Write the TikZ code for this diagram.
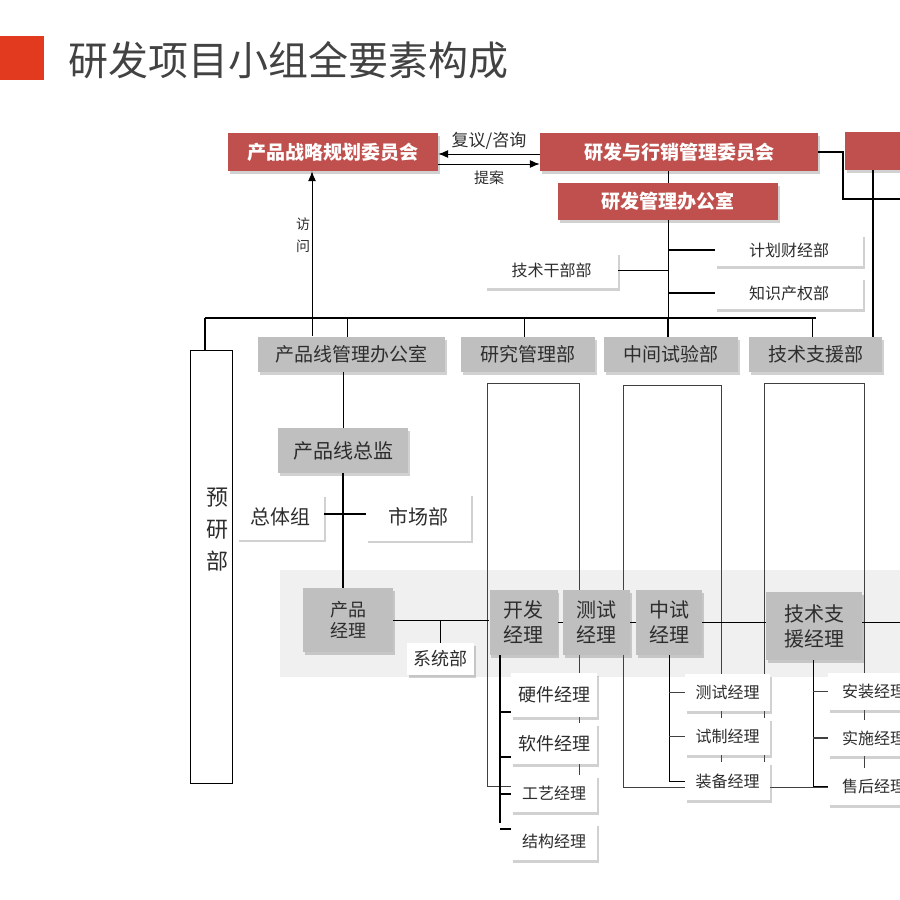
\documentclass[tikz,border=0pt]{standalone}
\usepackage{fontspec}
\setmainfont{Noto Sans CJK SC}
\usetikzlibrary{arrows.meta,shadows,calc}
\definecolor{titlered}{RGB}{226,58,30}
\definecolor{boxred}{RGB}{192,80,77}
\definecolor{boxgray}{RGB}{191,191,191}
\definecolor{bandgray}{RGB}{240,240,240}
\definecolor{textdark}{RGB}{45,45,45}
\definecolor{linegray}{RGB}{64,64,64}

\tikzset{
  boxshadow/.style={drop shadow={shadow xshift=1.5pt, shadow yshift=-2.5pt, opacity=0.3, fill=black!60}},
  redbox/.style={fill=boxred, text=white, inner sep=0pt, boxshadow, font=\fontsize{19}{22}\selectfont\bfseries},
  deptbox/.style={fill=boxgray, text=textdark, inner sep=0pt, boxshadow, minimum height=35pt, font=\fontsize{19}{22}\selectfont},
  mgrbox/.style={fill=boxgray, text=textdark, inner sep=0pt, boxshadow, align=center, font=\fontsize{20}{25}\selectfont},
  whitebox/.style={fill=white, text=textdark, inner sep=0pt, boxshadow, font=\fontsize{16}{18}\selectfont},
  thinline/.style={line width=0.8pt, black},
  busline/.style={line width=1.2pt, black},
  thickline/.style={line width=2pt, black},
  frameline/.style={line width=0.9pt, linegray},
  tickline/.style={line width=1.4pt, linegray},
  arrowline/.style={line width=1pt, -{Latex[length=10pt,width=8pt]}}
}

\begin{document}
\begin{tikzpicture}[x=1pt, y=-1pt]
    \useasboundingbox (0,0) rectangle (900,900);

    % Title
    \node[fill=titlered, minimum size=44pt, inner sep=0pt] (titlemark) at (22,58) {};
    \node[font=\fontsize{40}{44}\selectfont, text=textdark!90, inner sep=0pt] (title) at (288,60) {研发项目小组全要素构成};

    % Committees
    \node[redbox, minimum width=210pt, minimum height=38pt] (stratcom) at (333,152) {产品战略规划委员会};
    \node[redbox, minimum width=278pt, minimum height=38pt] (mktcom) at (679,152) {研发与行销管理委员会};
    \node[redbox, minimum width=120pt, minimum height=38pt] (thirdcom) at (905,151) {};
    \node[redbox, minimum width=220pt, minimum height=37pt] (rdoffice) at (668,201.5) {研发管理办公室};

    % Offices under the R&D office
    \node[whitebox, minimum width=133pt, minimum height=36pt] (cadre) at (551.5,270) {技术干部部};
    \node[whitebox, minimum width=148pt, minimum height=32pt] (finance) at (789,250) {计划财经部};
    \node[whitebox, minimum width=148pt, minimum height=32pt] (ipdept) at (789,293) {知识产权部};

    % Departments
    \node[deptbox, minimum width=187pt] (plo) at (351.5,354.5) {产品线管理办公室};
    \node[deptbox, minimum width=134pt] (resdept) at (528,354.5) {研究管理部};
    \node[deptbox, minimum width=134pt] (middept) at (671,354.5) {中间试验部};
    \node[deptbox, minimum width=133pt] (supdept) at (815.5,354.5) {技术支援部};

    % Pre-research
    \node[draw, line width=0.8pt, fill=white, minimum width=42pt, minimum height=433pt] (pre) at (211,566.5) {};
    \node[font=\fontsize{22}{32}\selectfont, align=center, text=textdark, inner sep=0pt] (prelbl) at (217,530) {预\\研\\部};

    % Product line
    \node[mgrbox, minimum width=130pt, minimum height=45pt] (plhead) at (343,450.5) {产品线总监};
    \node[whitebox, minimum width=87pt, minimum height=45pt, font=\fontsize{20}{22}\selectfont] (overall) at (280.5,517) {总体组};
    \node[whitebox, minimum width=105pt, minimum height=47pt, font=\fontsize{20}{22}\selectfont] (market) at (418.5,517) {市场部};

    % Project team band and frames
    \fill[bandgray] (280,570) rectangle (910,677);
    \draw[frameline] (487,383) rectangle (579,786);
    \draw[frameline] (623,385) rectangle (721,787);
    \draw[frameline] (764,383) rectangle (864,787);

    % Managers in the team
    \node[mgrbox, minimum width=90pt, minimum height=64pt, font=\fontsize{18}{21}\selectfont] (prodmgr) at (348,620) {产品\\经理};
    \node[mgrbox, minimum width=68pt, minimum height=65pt] (devmgr) at (523.5,622.5) {开发\\经理};
    \node[mgrbox, minimum width=67pt, minimum height=65pt] (testmgr) at (596.5,622.5) {测试\\经理};
    \node[mgrbox, minimum width=66pt, minimum height=65pt] (pilotmgr) at (669,622.5) {中试\\经理};
    \node[mgrbox, minimum width=96pt, minimum height=68pt] (supmgr) at (814,626) {技术支\\援经理};
    \node[whitebox, minimum width=67pt, minimum height=32pt, font=\fontsize{18}{20}\selectfont] (sysdept) at (440.5,659) {系统部};

    % Development sub-team
    \node[whitebox, minimum width=86pt, minimum height=44pt, font=\fontsize{18}{20}\selectfont] (hwmgr) at (554,695) {硬件经理};
    \node[whitebox, minimum width=86pt, minimum height=41pt, font=\fontsize{18}{20}\selectfont] (swmgr) at (554,743.5) {软件经理};
    \node[whitebox, minimum width=86pt, minimum height=37pt] (craftmgr) at (554,793.5) {工艺经理};
    \node[whitebox, minimum width=86pt, minimum height=37pt] (structmgr) at (554,841.5) {结构经理};

    % Pilot sub-team
    \node[whitebox, minimum width=85pt, minimum height=37pt] (testsub) at (727.5,692.5) {测试经理};
    \node[whitebox, minimum width=85pt, minimum height=37pt] (trialsub) at (727.5,736.5) {试制经理};
    \node[whitebox, minimum width=85pt, minimum height=38pt] (equipsub) at (727.5,781) {装备经理};

    % Support sub-team
    \node[whitebox, minimum width=92pt, minimum height=37pt] (install) at (874,691.5) {安装经理};
    \node[whitebox, minimum width=92pt, minimum height=36pt] (implement) at (874,738) {实施经理};
    \node[whitebox, minimum width=92pt, minimum height=37pt] (aftersales) at (874,786.5) {售后经理};

    % Committee links
    \draw[arrowline] ($(mktcom.west)+(0,2)$) -- ($(stratcom.east)+(0,2)$)
        node[midway, above=1pt, font=\fontsize{17}{19}\selectfont, text=textdark] (reviewlbl) {复议/咨询};
    \draw[arrowline] ($(stratcom.east)+(0,12)$) -- ($(mktcom.west)+(0,12)$)
        node[midway, below=3pt, font=\fontsize{15}{17}\selectfont, text=textdark] (proplbl) {提案};
    \coordinate (visit) at (312,336);
    \draw[arrowline] (visit) -- (visit |- stratcom.south);
    \node[font=\fontsize{14}{22}\selectfont, align=center, text=textdark, inner sep=0pt] (visitlbl) at (303,235) {访\\问};

    \coordinate (rstep) at (843,199);
    \draw[thickline] (mktcom.east) -| (rstep) -- ++(70,0);
    \coordinate (rdrop) at ([xshift=-9pt]supdept.north east);
    \draw[thickline] (rdrop) -- (rdrop |- thirdcom.south);

    % Spine and bus
    \coordinate (busL) at (205,318);
    \draw[thinline] (rdoffice.north |- mktcom.south) -- (rdoffice.north);
    \draw[thinline] (rdoffice.south) -- (rdoffice.south |- busL);
    \draw[thinline] (cadre.east) -- (cadre.east -| rdoffice.south);
    \draw[thickline] (finance.west) -- (finance.west -| rdoffice.south);
    \draw[thickline] (ipdept.west) -- (ipdept.west -| rdoffice.south);
    \draw[busline] (busL) -- (supdept.north |- busL);
    \draw[busline] (busL) -- (busL |- pre.north);
    \draw[busline] ([xshift=-4pt]plo.north) -- ([xshift=-4pt]plo.north |- busL);
    \draw[thinline] ([xshift=-4pt]resdept.north) -- ([xshift=-4pt]resdept.north |- busL);
    \draw[thickline] (rdoffice.south |- busL) -- (rdoffice.south |- middept.north);
    \draw[thinline] ([xshift=-3pt]supdept.north) -- ([xshift=-3pt]supdept.north |- busL);

    % Product line links
    \draw[thinline] (plhead.north |- plo.south) -- (plhead.north);
    \draw[thickline] (plhead.south) -- (plhead.south |- prodmgr.north);
    \draw[thickline] ([yshift=3pt]overall.east) -- ([yshift=3pt]market.west);

    % Team links
    \draw[thinline] (prodmgr.east) -- (prodmgr.east -| devmgr.west);
    \draw[thinline] (sysdept.north) -- (sysdept.north |- prodmgr.east);
    \draw[thinline] (devmgr.east) -- (devmgr.east -| testmgr.west);
    \draw[thinline] (testmgr.east) -- (testmgr.east -| pilotmgr.west);
    \draw[thinline] (pilotmgr.east) -- (pilotmgr.east -| supmgr.west);
    \draw[thinline] ([yshift=4pt]supmgr.east) -- ++(60,0);

    % Development spine
    \coordinate (devspine) at (500,823);
    \draw[thickline] (devspine) -- (devspine |- devmgr.south);
    \draw[thickline] ([yshift=5pt]hwmgr.south west) -- ++(-11,0);
    \draw[thickline] ([yshift=7pt]swmgr.south west) -- ++(-11,0);
    \draw[thickline] (craftmgr.west) -- ++(-11,0);
    \draw[thickline] ([yshift=-6pt]structmgr.north west) -- ++(-11,0);

    % Pilot spine
    \draw[thinline] (pilotmgr.south) |- (equipsub.west);
    \draw[tickline] (testsub.west) -- (testsub.west -| pilotmgr.south);
    \draw[tickline] (trialsub.west) -- (trialsub.west -| pilotmgr.south);

    % Support spine
    \draw[thinline] ([xshift=-1pt]supmgr.south) |- (aftersales.west);
    \draw[tickline] (install.west) -- ([xshift=-1pt]install.west -| supmgr.south);
    \draw[tickline] (implement.west) -- ([xshift=-1pt]implement.west -| supmgr.south);
\end{tikzpicture}
\end{document}
